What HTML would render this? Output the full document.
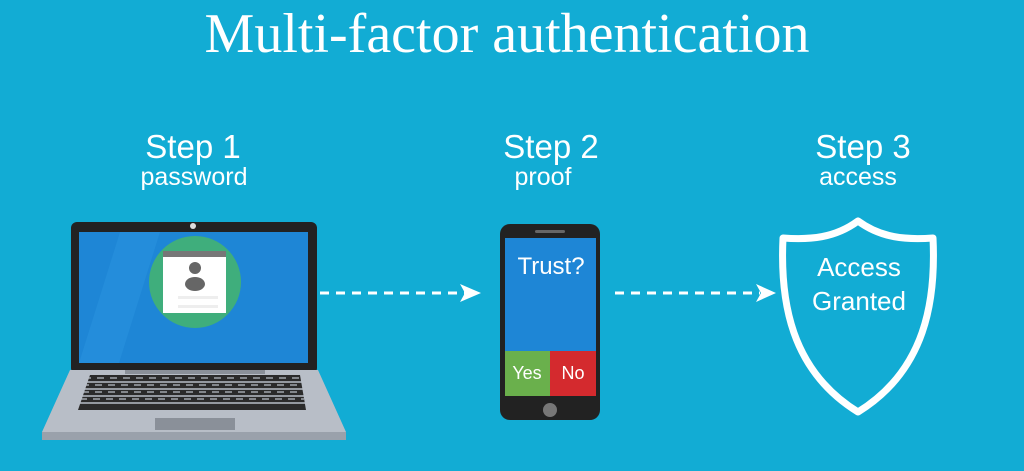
<!DOCTYPE html>
<html><head><style>
body{margin:0;width:1024px;height:471px;background:#12acd4;overflow:hidden;position:relative;font-family:"Liberation Sans",sans-serif;color:#fff}
.t{position:absolute;white-space:nowrap;transform:translateX(-50%)}
</style></head><body>
<div class="t" style="left:507px;top:2px;font-family:'Liberation Serif',serif;font-size:56px;">Multi-factor authentication</div>
<div class="t" style="left:193px;top:128px;font-size:33px">Step 1</div>
<div class="t" style="left:194px;top:163px;font-size:25px">password</div>
<div class="t" style="left:551px;top:128px;font-size:33px">Step 2</div>
<div class="t" style="left:543px;top:163px;font-size:25px">proof</div>
<div class="t" style="left:863px;top:128px;font-size:33px">Step 3</div>
<div class="t" style="left:858px;top:163px;font-size:25px">access</div>
<svg width="1024" height="471" style="position:absolute;left:0;top:0">
<rect x="71" y="222" width="246" height="152" rx="6" fill="#222"/>
<rect x="79" y="232" width="229" height="131" fill="#1e86d6"/>
<polygon points="79,363 120,232 160,232 119,363" fill="#2a93e0" opacity=".5"/>
<circle cx="193" cy="226" r="3" fill="#ddd"/>
<circle cx="195" cy="282" r="46" fill="#3fae7c"/>
<rect x="163" y="251" width="63" height="62" fill="#fff"/>
<rect x="163" y="251" width="63" height="6" fill="#777"/>
<circle cx="195" cy="268" r="6" fill="#666"/>
<ellipse cx="195" cy="284" rx="10" ry="7" fill="#666"/>
<rect x="178" y="296" width="40" height="3" fill="#eee"/><rect x="178" y="305" width="40" height="3" fill="#eee"/>
<polygon points="70,370 318,370 346,432 42,432" fill="#b8bec7"/>
<rect x="42" y="432" width="304" height="8" fill="#9aa1ab"/>
<rect x="125" y="370" width="140" height="4" fill="#8a9099"/>
<polygon points="90,375 300,375 306,410 78,410" fill="#2b2b2b"/>
<g stroke="#b8bec7" stroke-width="1.6">
<line x1="80" y1="382" x2="304" y2="382"/><line x1="79" y1="389" x2="305" y2="389"/><line x1="79" y1="396" x2="305" y2="396"/><line x1="78" y1="403" x2="306" y2="403"/>
</g>
<g stroke="#b8bec7" stroke-width="1.2" stroke-dasharray="7,6">
<line x1="84" y1="378" x2="304" y2="378"/><line x1="82" y1="385" x2="304" y2="385"/><line x1="82" y1="392" x2="304" y2="392"/><line x1="80" y1="399" x2="304" y2="399"/>
</g>
<rect x="155" y="418" width="80" height="12" fill="#8a9099"/>
<line x1="320" y1="293" x2="465" y2="293" stroke="#fff" stroke-width="3" stroke-dasharray="9,7"/>
<polygon points="460,284 481,293 460,302 465,293" fill="#fff"/>
<rect x="500" y="224" width="100" height="196" rx="10" fill="#222"/>
<rect x="535" y="230" width="30" height="3" rx="1.5" fill="#666"/>
<rect x="505" y="238" width="91" height="113" fill="#1e86d6"/>
<rect x="505" y="351" width="45" height="45" fill="#6ab04c"/>
<rect x="550" y="351" width="46" height="45" fill="#d42a2e"/>
<circle cx="550" cy="410" r="7" fill="#777"/>
<text x="551" y="274" font-size="24" fill="#fff" text-anchor="middle" font-family="Liberation Sans">Trust?</text>
<text x="527" y="379" font-size="18" fill="#fff" text-anchor="middle" font-family="Liberation Sans">Yes</text>
<text x="573" y="379" font-size="18" fill="#fff" text-anchor="middle" font-family="Liberation Sans">No</text>
<line x1="615" y1="293" x2="760" y2="293" stroke="#fff" stroke-width="3" stroke-dasharray="9,7"/>
<polygon points="756,284 776,293 756,302 761,293" fill="#fff"/>
<path d="M858,221 C835,238 810,240 783,238 C780,300 790,370 858,412 C926,370 936,300 933,238 C906,240 881,238 858,221 Z" fill="none" stroke="#fff" stroke-width="7" stroke-linejoin="round"/>
<text x="859" y="276" font-size="26" fill="#fff" text-anchor="middle" font-family="Liberation Sans">Access</text>
<text x="859" y="310" font-size="26" fill="#fff" text-anchor="middle" font-family="Liberation Sans">Granted</text>
</svg>
</body></html>
